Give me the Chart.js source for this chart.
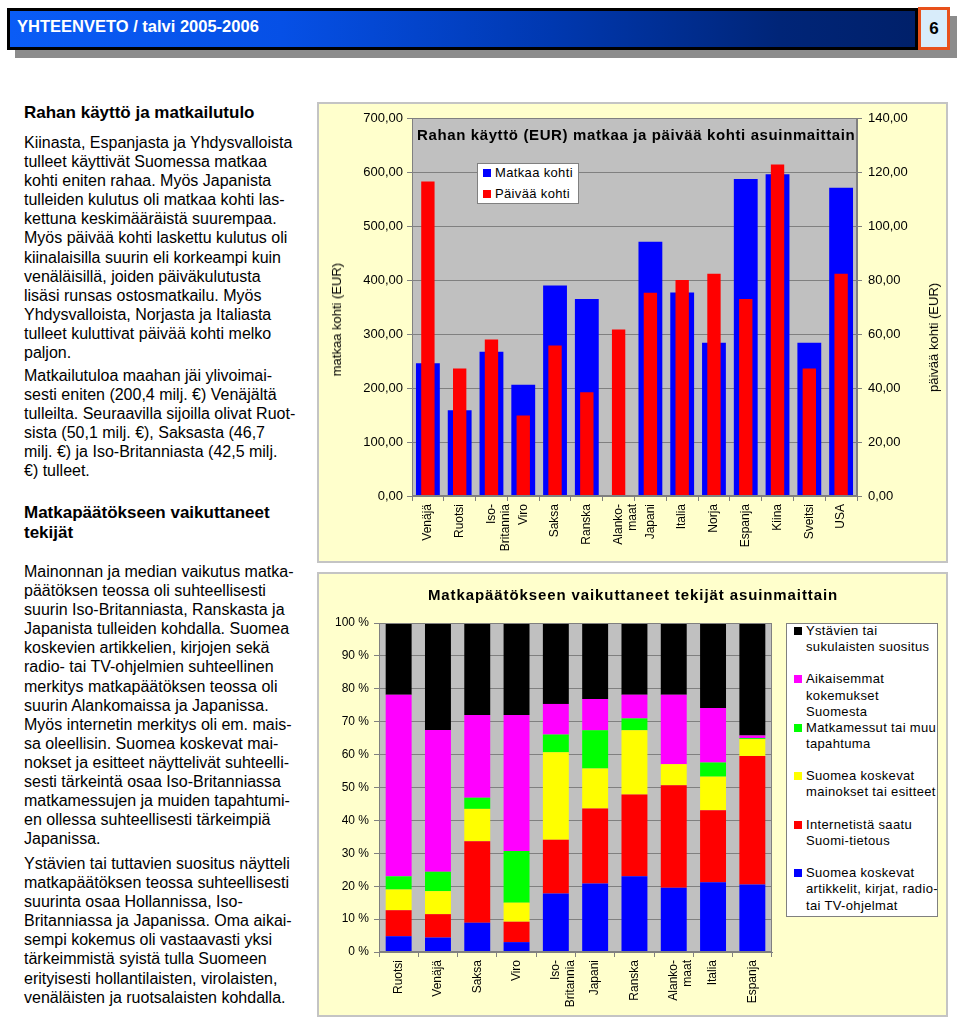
<!DOCTYPE html>
<html>
<head>
<meta charset="utf-8">
<script src="https://cdn.jsdelivr.net/npm/chart.js@4.4.0/dist/chart.umd.min.js"></script>
<style>
body { margin: 0; width: 960px; height: 1020px; background: #fff; position: relative; overflow: hidden;
       font-family: "Liberation Sans", Arial, sans-serif; color: #000; }
.abs { position: absolute; }
.txt { position: absolute; left: 24px; font-size: 16px; line-height: 19.1px; white-space: nowrap; }
.hd { font-weight: bold; font-size: 17px; line-height: 20px; }
.panel { position: absolute; background: #ffffcc; border: 2px solid #c4c4c4; box-sizing: border-box; }
.lgbox { position: absolute; background: #fff; border: 1px solid #808080; box-sizing: border-box; }
.lg { position: absolute; font-size: 13px; line-height: 16.3px; letter-spacing: 0.35px; white-space: nowrap; }
.sq { position: absolute; width: 8px; height: 8px; }
.rot { position: absolute; font-size: 13px; font-weight: normal; color: #000; white-space: nowrap; line-height: 15px;
       writing-mode: vertical-rl; transform: rotate(180deg); }
</style>
</head>
<body>

<!-- otsikkopalkki -->
<div class="abs" style="left:15px;top:16px;width:942px;height:42px;background:#8c8c8c"></div>
<div class="abs" style="left:7px;top:8px;width:911px;height:42px;box-sizing:border-box;border:3px solid #000;
  background:linear-gradient(to right,#0a5cf6 0%,#0650e6 30%,#0038b0 60%,#002578 85%,#00206a 100%)"></div>
<div class="abs" style="left:17px;top:16px;color:#fff;font-weight:bold;font-size:16.5px;line-height:20px">YHTEENVETO / talvi 2005-2006</div>
<div class="abs" style="left:918px;top:7px;width:32px;height:43px;box-sizing:border-box;border:3px solid #e8501a;background:#d8ecfa;
  font-weight:bold;font-size:17px;text-align:center;line-height:37px">6</div>

<!-- vasen teksti -->
<div class="txt hd" style="top:103px">Rahan käyttö ja matkailutulo</div>
<div class="txt" style="top:133px">
Kiinasta, Espanjasta ja Yhdysvalloista<br>
tulleet käyttivät Suomessa matkaa<br>
kohti eniten rahaa. Myös Japanista<br>
tulleiden kulutus oli matkaa kohti las-<br>
kettuna keskimääräistä suurempaa.<br>
Myös päivää kohti laskettu kulutus oli<br>
kiinalaisilla suurin eli korkeampi kuin<br>
venäläisillä, joiden päiväkulutusta<br>
lisäsi runsas ostosmatkailu. Myös<br>
Yhdysvalloista, Norjasta ja Italiasta<br>
tulleet kuluttivat päivää kohti melko<br>
paljon.</div>
<div class="txt" style="top:366px">
Matkailutuloa maahan jäi ylivoimai-<br>
sesti eniten (200,4 milj. €) Venäjältä<br>
tulleilta. Seuraavilla sijoilla olivat Ruot-<br>
sista (50,1 milj. €), Saksasta (46,7<br>
milj. €) ja Iso-Britanniasta (42,5 milj.<br>
€) tulleet.</div>
<div class="txt hd" style="top:503px">Matkapäätökseen vaikuttaneet<br>tekijät</div>
<div class="txt" style="top:562px">
Mainonnan ja median vaikutus matka-<br>
päätöksen teossa oli suhteellisesti<br>
suurin Iso-Britanniasta, Ranskasta ja<br>
Japanista tulleiden kohdalla. Suomea<br>
koskevien artikkelien, kirjojen sekä<br>
radio- tai TV-ohjelmien suhteellinen<br>
merkitys matkapäätöksen teossa oli<br>
suurin Alankomaissa ja Japanissa.<br>
Myös internetin merkitys oli em. mais-<br>
sa oleellisin. Suomea koskevat mai-<br>
nokset ja esitteet näyttelivät suhteelli-<br>
sesti tärkeintä osaa Iso-Britanniassa<br>
matkamessujen ja muiden tapahtumi-<br>
en ollessa suhteellisesti tärkeimpiä<br>
Japanissa.</div>
<div class="txt" style="top:854px">
Ystävien tai tuttavien suositus näytteli<br>
matkapäätöksen teossa suhteellisesti<br>
suurinta osaa Hollannissa, Iso-<br>
Britanniassa ja Japanissa. Oma aikai-<br>
sempi kokemus oli vastaavasti yksi<br>
tärkeimmistä syistä tulla Suomeen<br>
erityisesti hollantilaisten, virolaisten,<br>
venäläisten ja ruotsalaisten kohdalla.</div>

<!-- ylempi kaavio -->
<div class="panel" style="left:317px;top:102px;width:631px;height:461px"></div>
<canvas id="rahaChart" class="abs" width="625" height="459" style="left:322px;top:103px"></canvas>
<div class="abs" style="left:417px;top:126px;font-weight:bold;font-size:15px;letter-spacing:0.62px;white-space:nowrap">Rahan käyttö (EUR) matkaa ja päivää kohti asuinmaittain</div>
<div class="lgbox" style="left:477px;top:163px;width:102px;height:41px"></div>
<div class="sq" style="left:483px;top:169px;background:#0000ff"></div>
<div class="lg" style="left:495px;top:165px">Matkaa kohti</div>
<div class="sq" style="left:483px;top:190px;background:#ff0000"></div>
<div class="lg" style="left:495px;top:186px">Päivää kohti</div>
<div class="rot" style="left:329px;top:263px">matkaa kohti (EUR)</div>
<div class="rot" style="left:926px;top:283px">päivää kohti (EUR)</div>

<!-- alempi kaavio -->
<div class="panel" style="left:317px;top:572px;width:631px;height:445px"></div>
<canvas id="tekijatChart" class="abs" width="627" height="444" style="left:320px;top:572px"></canvas>
<div class="abs" style="left:633px;top:586px;transform:translateX(-50%);font-weight:bold;font-size:15px;letter-spacing:0.9px;white-space:nowrap">Matkapäätökseen vaikuttaneet tekijät asuinmaittain</div>
<div class="lgbox" style="left:786px;top:623px;width:152px;height:294px"></div>
<div id="tekijatLegend"></div>

<script>
// <================= Rahan käyttö =================>
const maat = ['Venäjä', 'Ruotsi', ['Iso-', 'Britannia'], 'Viro', 'Saksa', 'Ranska', ['Alanko-', 'maat'],
              'Japani', 'Italia', 'Norja', 'Espanja', 'Kiina', 'Sveitsi', 'USA'];
const matkaaKohti = [246, 159, 267, 206, 390, 365, null, 471, 377, 284, 587, 596, 284, 571];
const paivaaKohti = [116.5, 47.2, 58.0, 29.8, 55.7, 38.4, 61.7, 75.3, 80.0, 82.3, 73.0, 122.8, 47.2, 82.3];
const vasenMax = 700, vasenAskel = 100;
const oikeaMax = 140, oikeaAskel = 20;

// <================= Matkapäätös =================>
const maat2 = ['Ruotsi', 'Venäjä', 'Saksa', 'Viro', ['Iso-', 'Britannia'], 'Japani', 'Ranska', ['Alanko-', 'maat'], 'Italia', 'Espanja'];
const artikkelit = [4.8, 4.4, 8.9, 3.0, 17.8, 20.8, 23.0, 19.5, 21.2, 20.5];
const internet   = [7.9, 7.1, 24.8, 6.2, 16.3, 22.8, 24.9, 31.2, 21.9, 39.1];
const mainokset  = [6.3, 7.0, 9.8, 5.8, 26.6, 12.2, 19.5, 6.4, 10.2, 5.1];
const messut     = [4.0, 5.9, 3.4, 15.7, 5.4, 11.6, 3.6, 0, 4.3, 0.3];
const aiemmat    = [55.2, 43.1, 25.1, 41.3, 9.3, 9.5, 7.2, 21.1, 16.6, 0.8];
const ystavat    = [21.8, 32.5, 28.0, 28.0, 24.6, 23.1, 21.8, 21.8, 25.8, 34.2];
const prosenttiAskel = 10;

const fmt = v => v.toFixed(2).replace('.', ',');

// harmaa piirtoalue + reunus
const plotBg = {
    id: 'plotBg',
    beforeDraw(chart) {
        const a = chart.chartArea, ctx = chart.ctx;
        ctx.save();
        ctx.fillStyle = '#c0c0c0';
        ctx.fillRect(a.left, a.top, a.right - a.left, a.bottom - a.top);
        ctx.restore();
    },
    afterDraw(chart) {
        const a = chart.chartArea, ctx = chart.ctx;
        ctx.save();
        ctx.strokeStyle = '#808080';
        ctx.lineWidth = 1;
        ctx.strokeRect(a.left + 0.5, a.top + 0.5, a.right - a.left - 1, a.bottom - a.top - 1);
        ctx.restore();
    }
};

const xAxis = h => ({
    grid: { display: true, drawOnChartArea: false, drawTicks: true, tickLength: 5, color: '#808080', offset: true },
    border: { color: '#808080' },
    ticks: { minRotation: 90, maxRotation: 90, autoSkip: false, color: '#000', padding: 3,
             font: { family: 'Liberation Sans', size: 12 } },
    afterFit: s => { s.height = h; }
});

new Chart(document.getElementById('rahaChart'), {
    type: 'bar',
    data: {
        labels: maat,
        datasets: [{
            label: 'Matkaa kohti',
            data: matkaaKohti,
            backgroundColor: '#0000ff',
            yAxisID: 'y',
            barPercentage: 0.75,
            categoryPercentage: 1,
            grouped: false,
            order: 2
        }, {
            label: 'Päivää kohti',
            data: paivaaKohti,
            backgroundColor: '#ff0000',
            yAxisID: 'y2',
            barPercentage: 0.42,
            categoryPercentage: 1,
            grouped: false,
            order: 1
        }]
    },
    options: {
        responsive: false,
        animation: false,
        layout: { padding: { top: 15, left: 0, right: 0, bottom: 0 } },
        plugins: { legend: { display: false }, tooltip: { enabled: false } },
        scales: {
            x: xAxis(66),
            y: {
                position: 'left', min: 0, max: vasenMax,
                grid: { color: '#808080', tickLength: 5 },
                border: { color: '#808080' },
                ticks: { stepSize: vasenAskel, callback: v => fmt(v), color: '#000', padding: 4,
                         font: { family: 'Liberation Sans', size: 13 } },
                afterFit: s => { s.width = 90; }
            },
            y2: {
                position: 'right', min: 0, max: oikeaMax,
                grid: { drawOnChartArea: false, color: '#808080', tickLength: 5 },
                border: { color: '#808080' },
                ticks: { stepSize: oikeaAskel, callback: v => fmt(v), color: '#000', padding: 6,
                         font: { family: 'Liberation Sans', size: 13 } },
                afterFit: s => { s.width = 90; }
            }
        }
    },
    plugins: [plotBg]
});

const tekijat = [
    { label: 'Suomea koskevat artikkelit, kirjat, radio- tai TV-ohjelmat', rivit: ['Suomea koskevat', 'artikkelit, kirjat, radio-', 'tai TV-ohjelmat'], data: artikkelit, color: '#0000ff' },
    { label: 'Internetistä saatu Suomi-tietous', rivit: ['Internetistä saatu', 'Suomi-tietous'], data: internet, color: '#ff0000' },
    { label: 'Suomea koskevat mainokset tai esitteet', rivit: ['Suomea koskevat', 'mainokset tai esitteet'], data: mainokset, color: '#ffff00' },
    { label: 'Matkamessut tai muu tapahtuma', rivit: ['Matkamessut tai muu', 'tapahtuma'], data: messut, color: '#00ff00' },
    { label: 'Aikaisemmat kokemukset Suomesta', rivit: ['Aikaisemmat', 'kokemukset', 'Suomesta'], data: aiemmat, color: '#ff00ff' },
    { label: 'Ystävien tai sukulaisten suositus', rivit: ['Ystävien tai', 'sukulaisten suositus'], data: ystavat, color: '#000000' }
];

new Chart(document.getElementById('tekijatChart'), {
    type: 'bar',
    data: {
        labels: maat2,
        datasets: tekijat.map(t => ({
            label: t.label,
            data: t.data,
            backgroundColor: t.color,
            barPercentage: 0.66,
            categoryPercentage: 1
        }))
    },
    options: {
        responsive: false,
        animation: false,
        layout: { padding: { top: 51, left: 0, right: 175, bottom: 0 } },
        plugins: { legend: { display: false }, tooltip: { enabled: false } },
        scales: {
            x: Object.assign(xAxis(64), { stacked: true }),
            y: {
                stacked: true, min: 0, max: 100,
                grid: { color: '#808080', tickLength: 5 },
                border: { color: '#808080' },
                ticks: { stepSize: prosenttiAskel, callback: v => v + ' %', color: '#000', padding: 5,
                         font: { family: 'Liberation Sans', size: 12 } },
                afterFit: s => { s.width = 59; }
            }
        }
    },
    plugins: [plotBg]
});

// selite käänteisessä järjestyksessä, kuten alkuperäisessä
var legendHtml = '';
tekijat.slice().reverse().forEach(function(t, i) {
    var top = 623 + i * 48.4;
    legendHtml += '<div class="sq" style="left:794px;top:' + (top + 4) + 'px;background:' + t.color + '"></div>';
    legendHtml += '<div class="lg" style="left:806px;top:' + top + 'px">' + t.rivit.join('<br>') + '</div>';
});
document.getElementById('tekijatLegend').innerHTML = legendHtml;
</script>
</body>
</html>
